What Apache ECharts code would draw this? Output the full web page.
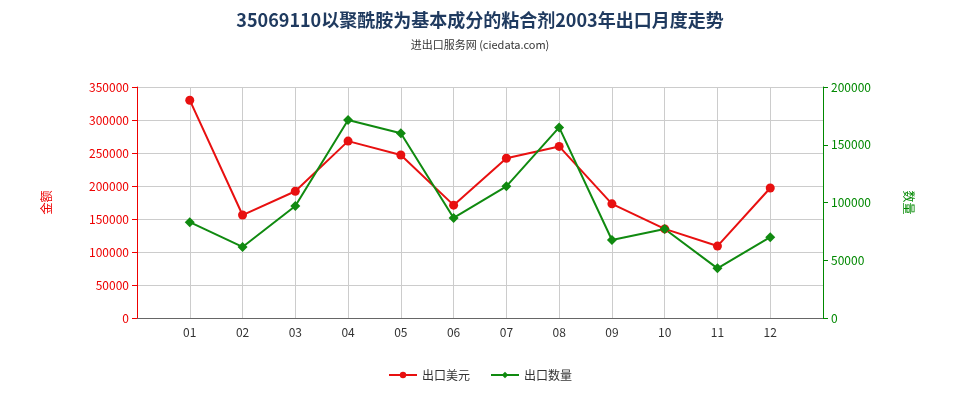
<!DOCTYPE html>
<html>
<head>
<meta charset="utf-8">
<script src="https://cdn.jsdelivr.net/npm/echarts@6/dist/echarts.min.js"></script>
<style>html,body{margin:0;padding:0;background:#fff}#c{width:960px;height:400px}</style>
</head>
<body>
<div id="c"></div>
<script>
// 月份（两端留空位）
const months = ['', '01', '02', '03', '04', '05', '06', '07', '08', '09', '10', '11', '12', ''];
// 出口美元
const usd = ['-', 330000, 156000, 192000, 268000, 247000, 171000, 242000, 260000, 173000, 135000, 109000, 197000, '-'];
// 出口数量
const qty = ['-', 83000, 61500, 97000, 171500, 160000, 86600, 114000, 165000, 67500, 77000, 43000, 70000, '-'];

const font = 'Noto Sans CJK SC';
const chart = echarts.init(document.getElementById('c'));
chart.setOption({
    backgroundColor: '#fff',
    textStyle: { fontFamily: font },
    title: {
        text: '35069110以聚酰胺为基本成分的粘合剂2003年出口月度走势',
        subtext: '进出口服务网 (ciedata.com)',
        left: 'center',
        top: 6,
        itemGap: 10,
        textStyle: { fontSize: 18, fontWeight: 'bold', color: '#1f3a5f', fontFamily: font },
        subtextStyle: { fontSize: 11, color: '#333', fontFamily: font }
    },
    legend: {
        bottom: 14,
        left: 'center',
        itemWidth: 28,
        itemHeight: 8,
        itemGap: 20,
        textStyle: { fontSize: 12, color: '#333' },
        data: ['出口美元', '出口数量']
    },
    grid: { left: 137, right: 137, top: 87, bottom: 82 },
    xAxis: {
        type: 'category',
        data: months,
        boundaryGap: false,
        axisTick: { show: false },
        axisLine: { lineStyle: { color: '#666' } },
        axisLabel: { color: '#333', fontSize: 12, interval: 0 },
        splitLine: { show: true, lineStyle: { color: '#ccc' } }
    },
    yAxis: [{
        type: 'value',
        name: '金额',
        nameLocation: 'middle',
        nameGap: 85,
        nameRotate: 90,
        nameTextStyle: { color: '#e00', fontSize: 12 },
        min: 0, max: 350000, interval: 50000,
        axisLine: { show: true, lineStyle: { color: '#e00' } },
        axisTick: { show: true },
        axisLabel: { color: '#e00', fontSize: 12, formatter: v => String(v) },
        splitLine: { lineStyle: { color: '#ccc' } }
    }, {
        type: 'value',
        name: '数量',
        nameLocation: 'middle',
        nameGap: 80,
        nameRotate: -90,
        nameTextStyle: { color: '#080', fontSize: 12 },
        min: 0, max: 200000, interval: 50000,
        axisLine: { show: true, lineStyle: { color: '#080' } },
        axisTick: { show: true },
        axisLabel: { color: '#080', fontSize: 12, formatter: v => String(v) },
        splitLine: { show: false }
    }],
    series: [{
        name: '出口美元',
        type: 'line',
        data: usd,
        yAxisIndex: 0,
        symbol: 'circle',
        symbolSize: 9,
        color: '#e81010',
        lineStyle: { width: 2 }
    }, {
        name: '出口数量',
        type: 'line',
        data: qty,
        yAxisIndex: 1,
        symbol: 'diamond',
        symbolSize: 10,
        color: '#108a10',
        lineStyle: { width: 2 }
    }]
});
</script>
</body>
</html>
